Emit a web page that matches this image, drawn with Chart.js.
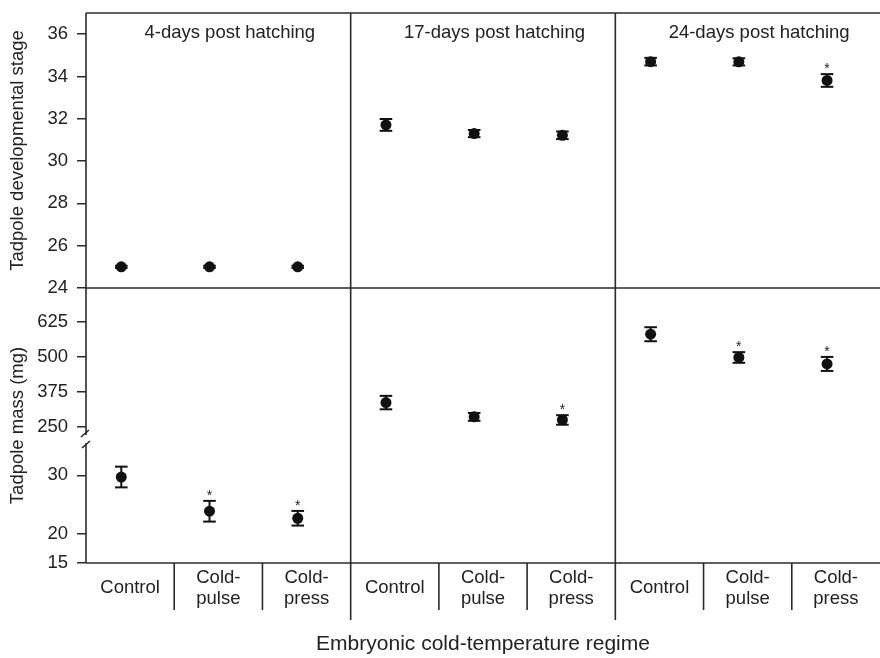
<!DOCTYPE html>
<html><head><meta charset="utf-8">
<script src="https://cdn.jsdelivr.net/npm/chart.js@4.4.1/dist/chart.umd.min.js"></script>
<style>html,body{margin:0;padding:0;background:#fff;overflow:hidden}canvas{display:block}</style>
</head><body>
<canvas id="c" width="880" height="658"></canvas>
<script>
// ---------- data ----------
const categories = ['Control', ['Cold-', 'pulse'], ['Cold-', 'press']];
const panelTitles = ['4-days post hatching', '17-days post hatching', '24-days post hatching'];

const stageMean = [[25.0, 25.0, 25.0], [31.71, 31.30, 31.22], [34.70, 34.69, 33.81]];
const stageErr  = [[0.05, 0.05, 0.05], [0.28, 0.17, 0.18], [0.18, 0.17, 0.30]];
const stageSig  = [[0, 0, 0], [0, 0, 0], [0, 0, 1]];

const massMean = [[29.7, 23.85, 22.65], [338, 287, 276], [582, 499, 476]];
const massErr  = [[1.77, 1.77, 1.25], [24, 14, 17], [25, 19, 25]];
const massSig  = [[0, 1, 1], [0, 0, 1], [0, 1, 1]];

const stageTicks = [24, 26, 28, 30, 32, 34, 36];
const massHighTicks = [250, 375, 500, 625];
const massLowTicks = [15, 20, 30];

const yTitleStage = 'Tadpole developmental stage';
const yTitleMass = 'Tadpole mass (mg)';
const xTitle = 'Embryonic cold-temperature regime';

// ---------- style ----------
const FONT = "'Liberation Sans', Arial, Helvetica, sans-serif";
const TEXT = '#222';
const LINE = '#2a2a2a';
const POINT_SHIFT = -0.1;
Chart.defaults.font.family = FONT;
Chart.defaults.color = TEXT;

const allLabels = [];
panelTitles.forEach(() => categories.forEach(c => allLabels.push(c)));

function mkData(means, p) {
  return means[p].map((v, j) => ({ x: p * 3 + j + POINT_SHIFT, y: v }));
}
const datasets = [];
for (let p = 0; p < 3; p++) {
  datasets.push({ data: mkData(stageMean, p), errors: stageErr[p], sig: stageSig[p], yAxisID: 'yStage' });
}
for (let p = 0; p < 3; p++) {
  datasets.push({ data: mkData(massMean, p), errors: massErr[p], sig: massSig[p], yAxisID: p === 0 ? 'yMassLow' : 'yMassHigh' });
}
datasets.forEach(d => Object.assign(d, {
  xAxisID: 'xp', showLine: false, pointRadius: 5.5, pointHoverRadius: 5.5,
  pointBackgroundColor: '#111', pointBorderColor: '#111', pointBorderWidth: 0
}));

function setTicks(values) {
  return scale => { scale.ticks = values.map(v => ({ value: v })); };
}
function yAxis(min, max, ticks, weight, stackWeight) {
  return {
    type: 'linear', position: 'left', stack: 'left', stackWeight, weight, min, max,
    afterBuildTicks: setTicks(ticks),
    afterFit: s => { s.width = 86; s.paddingTop = 0; s.paddingBottom = 0; },
    grid: { drawOnChartArea: false, drawTicks: true, tickLength: 9, color: LINE, lineWidth: 1.5 },
    border: { display: false },
    ticks: { font: { size: 18.5 }, color: TEXT, padding: 9 }
  };
}

const plugin = {
  id: 'panels',
  beforeDatasetsDraw(chart) {
    const { ctx, chartArea: a, scales } = chart;
    const xp = scales.xp, yT = scales.yStage, yH = scales.yMassHigh;
    const b = yH.bottom;
    ctx.save();
    ctx.strokeStyle = LINE; ctx.lineWidth = 1.6; ctx.lineCap = 'butt';
    const line = (x1, y1, x2, y2) => { ctx.beginPath(); ctx.moveTo(x1, y1); ctx.lineTo(x2, y2); ctx.stroke(); };
    line(a.left, a.top, a.right, a.top);
    line(a.left, yT.bottom, a.right, yT.bottom);
    line(a.left, a.bottom, a.right, a.bottom);
    line(a.left, a.top, a.left, b - 4);
    line(a.left, b + 4, a.left, a.bottom);
    line(a.left - 5, b - 2, a.left + 3, b - 9);
    line(a.left - 4, b + 9, a.left + 4, b + 2);
    for (let k = 1; k < allLabels.length; k++) {
      const x = xp.getPixelForValue(k - 0.5);
      if (k % 3 === 0) line(x, a.top, x, a.bottom + 57);
      else line(x, a.bottom, x, a.bottom + 47);
    }
    // error bars
    ctx.strokeStyle = '#111'; ctx.lineWidth = 2;
    chart.data.datasets.forEach((ds, di) => {
      const meta = chart.getDatasetMeta(di);
      const ys = scales[ds.yAxisID];
      meta.data.forEach((pt, j) => {
        const v = ds.data[j].y, e = ds.errors[j];
        const y1 = ys.getPixelForValue(v + e), y2 = ys.getPixelForValue(v - e);
        line(pt.x, y1, pt.x, y2);
        line(pt.x - 6.3, y1, pt.x + 6.3, y1);
        line(pt.x - 6.3, y2, pt.x + 6.3, y2);
      });
    });
    // texts
    ctx.fillStyle = TEXT;
    ctx.font = '18.5px ' + FONT;
    ctx.textAlign = 'center'; ctx.textBaseline = 'alphabetic';
    panelTitles.forEach((t, p) => {
      ctx.fillText(t, xp.getPixelForValue(p * 3 + 1 + 0.13), a.top + 25);
    });
    ctx.textBaseline = 'middle';
    const vText = (t, x, y) => { ctx.save(); ctx.translate(x, y); ctx.rotate(-Math.PI / 2); ctx.fillText(t, 0, 0); ctx.restore(); };
    vText(yTitleStage, 18, (yT.top + yT.bottom) / 2);
    vText(yTitleMass, 18, (yH.top + scales.yMassLow.bottom) / 2);
    ctx.restore();
  },
  afterDatasetsDraw(chart) {
    const { ctx, scales } = chart;
    ctx.save();
    ctx.fillStyle = TEXT; ctx.font = '14px ' + FONT;
    ctx.textAlign = 'center'; ctx.textBaseline = 'alphabetic';
    chart.data.datasets.forEach((ds, di) => {
      const meta = chart.getDatasetMeta(di);
      const ys = scales[ds.yAxisID];
      meta.data.forEach((pt, j) => {
        if (!ds.sig[j]) return;
        const y1 = ys.getPixelForValue(ds.data[j].y + ds.errors[j]);
        ctx.fillText('*', pt.x, y1 - 1);
      });
    });
    ctx.restore();
  }
};

new Chart(document.getElementById('c'), {
  type: 'scatter',
  data: { datasets },
  plugins: [plugin],
  options: {
    responsive: false, animation: false, devicePixelRatio: 1,
    layout: { autoPadding: false, padding: { top: 13, left: 0, right: 0, bottom: 0 } },
    plugins: { legend: { display: false }, tooltip: { enabled: false } },
    scales: {
      x: {
        type: 'category', labels: allLabels, position: 'bottom', offset: true,
        afterFit: s => { s.height = 95; s.paddingLeft = 0; s.paddingRight = 0; },
        grid: { display: false, drawTicks: false, offset: true },
        border: { display: false },
        ticks: { autoSkip: false, maxRotation: 0, minRotation: 0, crossAlign: 'center', padding: 15,
                 font: { size: 18.5, lineHeight: 1.12 }, color: TEXT },
        title: { display: true, text: xTitle, font: { size: 21 }, color: TEXT, padding: { top: 0, bottom: 1 } }
      },
      xp: { type: 'linear', display: false, min: -0.5, max: allLabels.length - 0.5 },
      yMassLow: yAxis(15, 36.2, massLowTicks, 1, 124),
      yMassHigh: yAxis(208, 747, massHighTicks, 2, 151),
      yStage: yAxis(24, 37, stageTicks, 3, 275)
    }
  }
});
</script>
</body></html>
